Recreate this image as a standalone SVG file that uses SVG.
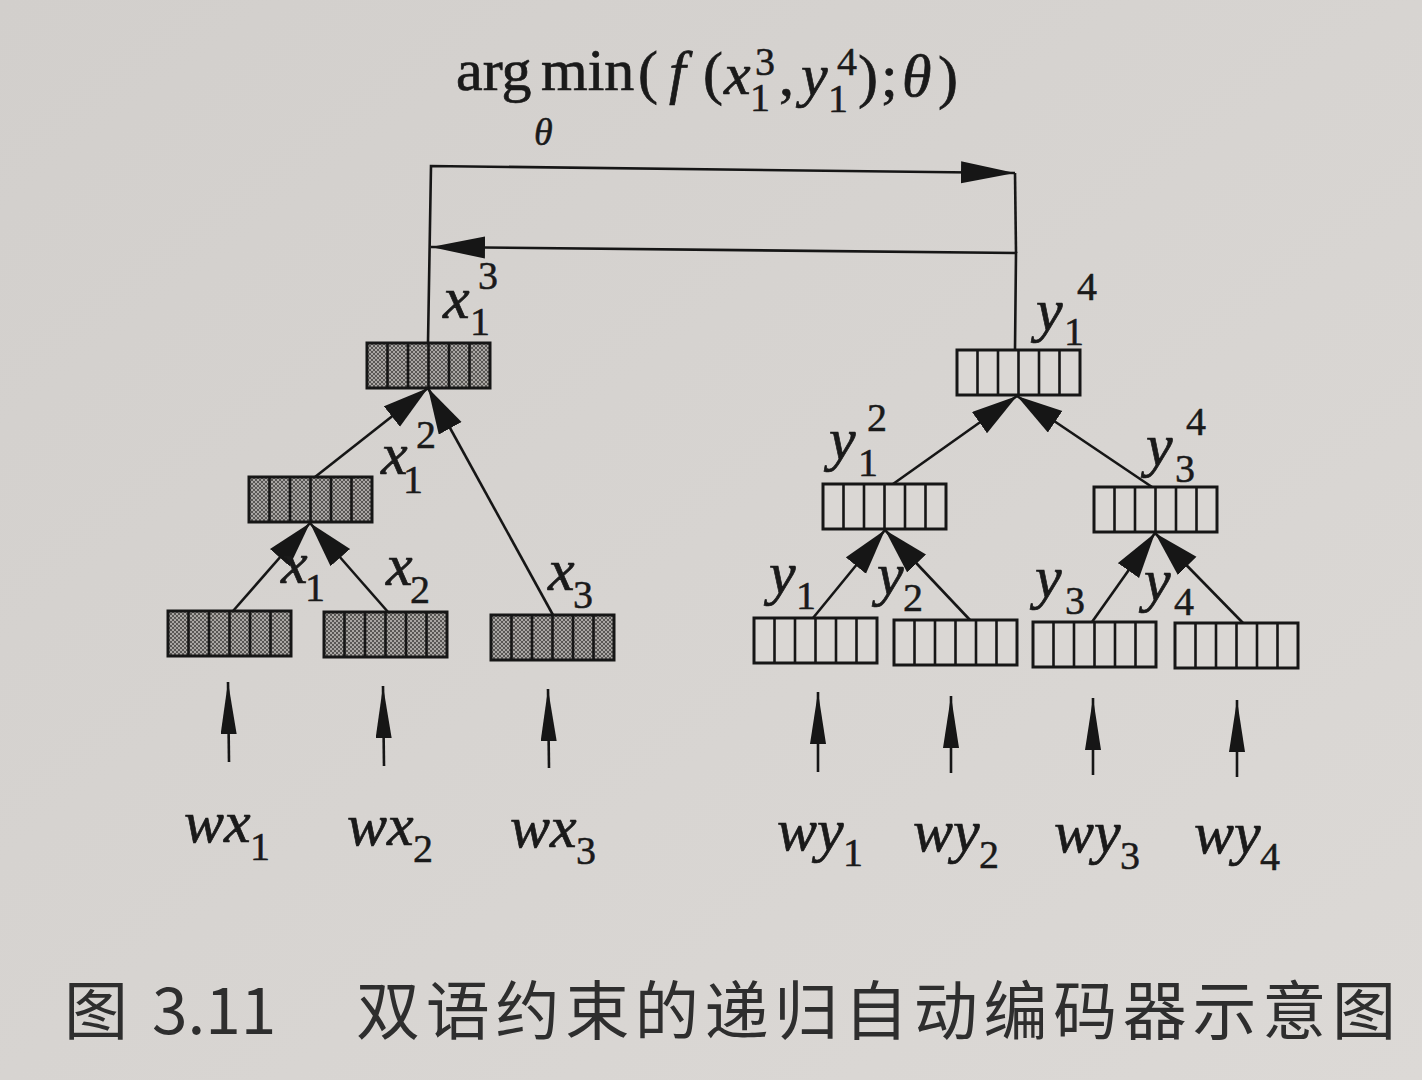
<svg xmlns="http://www.w3.org/2000/svg" xmlns:xlink="http://www.w3.org/1999/xlink" width="1422" height="1080" viewBox="0 0 1422 1080">
<style>
.ink{stroke:#161616;fill:none}
.edge{stroke:#161616;stroke-width:2.6;fill:none}
.v{font-family:'Liberation Serif',serif;font-style:italic;font-size:60px;fill:#1a1a1a;stroke:#1a1a1a;stroke-width:0.7}
.r{font-family:'Liberation Serif',serif;font-size:60px;fill:#1a1a1a;stroke:#1a1a1a;stroke-width:0.7}
.s{font-family:'Liberation Serif',serif;font-size:40px;fill:#1a1a1a;stroke:#1a1a1a;stroke-width:0.5}
.cap{font-family:'Noto Sans CJK SC','Noto Sans',sans-serif;font-size:64px;fill:#2e2e2e}
</style>
<defs>
<linearGradient id="paper" x1="0" y1="0" x2="1" y2="1">
<stop offset="0" stop-color="#d2cfcc"/>
<stop offset="1" stop-color="#dcd9d6"/>
</linearGradient>
<pattern id="dots" width="4" height="4" patternUnits="userSpaceOnUse">
<rect width="4" height="4" fill="#a9a6a3"/>
<rect x="0" y="0" width="2" height="2" fill="#595755"/>
<rect x="2" y="2" width="2" height="2" fill="#595755"/>
</pattern>
<g id="cellsGrey">
<rect x="0" y="0" width="123" height="45" fill="url(#dots)" stroke="#161616" stroke-width="3"/>
<path d="M20.5 0V45M41 0V45M61.5 0V45M82 0V45M102.5 0V45" class="ink" stroke-width="2.6"/>
</g>
<g id="cellsWhite">
<rect x="0" y="0" width="123" height="45" fill="#dad7d4" stroke="#161616" stroke-width="3"/>
<path d="M20.5 0V45M41 0V45M61.5 0V45M82 0V45M102.5 0V45" class="ink" stroke-width="2.6"/>
</g>
<marker id="headTree" markerUnits="userSpaceOnUse" markerWidth="48" markerHeight="28" refX="46" refY="13" orient="auto">
<path d="M0,0 L46,13 L0,26 z" fill="#161616"/>
</marker>
<marker id="headTop" markerUnits="userSpaceOnUse" markerWidth="56" markerHeight="24" refX="54" refY="11" orient="auto">
<path d="M0,0 L54,11 L0,22 z" fill="#161616"/>
</marker>
<marker id="headIn" markerUnits="userSpaceOnUse" markerWidth="54" markerHeight="18" refX="52" refY="8" orient="auto">
<path d="M0,0 L52,8 L0,16 z" fill="#161616"/>
</marker>
</defs>

<rect x="0" y="0" width="1422" height="1080" fill="url(#paper)"/>

<g id="objective">
<text class="r" x="456" y="90">arg</text>
<text class="r" x="541" y="90">min</text>
<text class="r" x="638" y="92">(</text>
<text class="v" x="669" y="92">f</text>
<text class="r" x="703" y="93">(</text>
<text class="v" x="724" y="94">x</text>
<text class="s" x="750" y="111">1</text>
<text class="s" x="755" y="75">3</text>
<text class="r" x="779" y="95">,</text>
<text class="v" x="801" y="95">y</text>
<text class="s" x="828" y="112">1</text>
<text class="s" x="837" y="75">4</text>
<text class="r" x="858" y="96">)</text>
<text class="r" x="881" y="96">;</text>
<text class="v" x="902" y="96">θ</text>
<text class="r" x="938" y="97">)</text>
<text class="v" x="534" y="145" style="font-size:38px;stroke-width:0.5">θ</text>
</g>

<g id="connectors">
<path class="edge" d="M428,343 L431,166 L1015,173" marker-end="url(#headTop)"/>
<path class="edge" d="M1015,173 L1016,253"/>
<path class="edge" d="M1015,350 L1016,253 L431,247" marker-end="url(#headTop)"/>
<line class="edge" x1="233" y1="611" x2="310" y2="523" marker-end="url(#headTree)"/>
<line class="edge" x1="388" y1="612" x2="310" y2="523" marker-end="url(#headTree)"/>
<line class="edge" x1="315" y1="477" x2="428" y2="388" marker-end="url(#headTree)"/>
<line class="edge" x1="553" y1="615" x2="428" y2="388" marker-end="url(#headTree)"/>
<line class="edge" x1="813" y1="618" x2="885" y2="530" marker-end="url(#headTree)"/>
<line class="edge" x1="970" y1="620" x2="885" y2="530" marker-end="url(#headTree)"/>
<line class="edge" x1="1092" y1="622" x2="1155" y2="533" marker-end="url(#headTree)"/>
<line class="edge" x1="1243" y1="623" x2="1155" y2="533" marker-end="url(#headTree)"/>
<line class="edge" x1="893" y1="484" x2="1017" y2="396" marker-end="url(#headTree)"/>
<line class="edge" x1="1152" y1="487" x2="1017" y2="396" marker-end="url(#headTree)"/>
<line class="edge" x1="229" y1="762" x2="228" y2="682" marker-end="url(#headIn)"/>
<line class="edge" x1="384" y1="766" x2="383" y2="686" marker-end="url(#headIn)"/>
<line class="edge" x1="549" y1="768" x2="548" y2="689" marker-end="url(#headIn)"/>
<line class="edge" x1="818" y1="772" x2="818" y2="692" marker-end="url(#headIn)"/>
<line class="edge" x1="951" y1="773" x2="951" y2="696" marker-end="url(#headIn)"/>
<line class="edge" x1="1093" y1="775" x2="1093" y2="698" marker-end="url(#headIn)"/>
<line class="edge" x1="1237" y1="777" x2="1237" y2="700" marker-end="url(#headIn)"/>
</g>

<g id="node-x13"><use xlink:href="#cellsGrey" x="367" y="343"/>
<text class="v" x="443" y="318">x</text><text class="s" x="470" y="335">1</text><text class="s" x="478" y="289">3</text></g>
<g id="node-x12"><use xlink:href="#cellsGrey" x="249" y="477"/>
<text class="v" x="381" y="474">x</text><text class="s" x="403" y="493">1</text><text class="s" x="416" y="448">2</text></g>
<g id="node-x1"><use xlink:href="#cellsGrey" x="168" y="611"/>
<text class="v" x="281" y="583">x</text><text class="s" x="305" y="601">1</text></g>
<g id="node-x2"><use xlink:href="#cellsGrey" x="324" y="612"/>
<text class="v" x="386" y="585">x</text><text class="s" x="410" y="603">2</text></g>
<g id="node-x3"><use xlink:href="#cellsGrey" x="491" y="615"/>
<text class="v" x="548" y="590">x</text><text class="s" x="573" y="608">3</text></g>

<g id="node-y14"><use xlink:href="#cellsWhite" x="957" y="350"/>
<text class="v" x="1036" y="330">y</text><text class="s" x="1064" y="345">1</text><text class="s" x="1077" y="300">4</text></g>
<g id="node-y12"><use xlink:href="#cellsWhite" x="823" y="484"/>
<text class="v" x="829" y="459">y</text><text class="s" x="858" y="476">1</text><text class="s" x="867" y="431">2</text></g>
<g id="node-y34"><use xlink:href="#cellsWhite" x="1094" y="487"/>
<text class="v" x="1146" y="465">y</text><text class="s" x="1175" y="482">3</text><text class="s" x="1186" y="435">4</text></g>
<g id="node-y1"><use xlink:href="#cellsWhite" x="754" y="618"/>
<text class="v" x="769" y="593">y</text><text class="s" x="796" y="609">1</text></g>
<g id="node-y2"><use xlink:href="#cellsWhite" x="894" y="620"/>
<text class="v" x="877" y="594">y</text><text class="s" x="903" y="611">2</text></g>
<g id="node-y3"><use xlink:href="#cellsWhite" x="1033" y="622"/>
<text class="v" x="1035" y="597">y</text><text class="s" x="1065" y="614">3</text></g>
<g id="node-y4"><use xlink:href="#cellsWhite" x="1175" y="623"/>
<text class="v" x="1144" y="600">y</text><text class="s" x="1174" y="615">4</text></g>

<g id="input-wx1"><text class="v" x="184" y="842">wx</text><text class="s" x="250" y="860">1</text></g>
<g id="input-wx2"><text class="v" x="347" y="845">wx</text><text class="s" x="413" y="862">2</text></g>
<g id="input-wx3"><text class="v" x="510" y="847">wx</text><text class="s" x="576" y="864">3</text></g>
<g id="input-wy1"><text class="v" x="777" y="850">wy</text><text class="s" x="843" y="866">1</text></g>
<g id="input-wy2"><text class="v" x="913" y="851">wy</text><text class="s" x="979" y="868">2</text></g>
<g id="input-wy3"><text class="v" x="1054" y="852">wy</text><text class="s" x="1120" y="869">3</text></g>
<g id="input-wy4"><text class="v" x="1194" y="853">wy</text><text class="s" x="1260" y="870">4</text></g>

<g id="caption">
<text class="cap" x="64" y="1034">图</text>
<text class="cap" x="152" y="1034">3.11</text>
<text class="cap" x="356" y="1034" textLength="1040" lengthAdjust="spacing">双语约束的递归自动编码器示意图</text>
</g>
</svg>
